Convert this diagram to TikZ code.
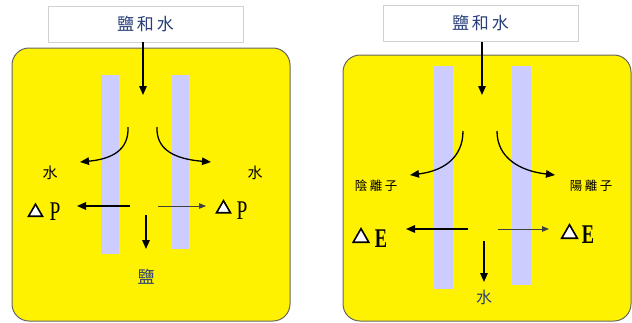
\documentclass[tikz,border=0pt]{standalone}
\usepackage{fontspec}
\newfontfamily\cjk{Noto Sans CJK TC}
\newfontfamily\latser{Liberation Serif}
\usetikzlibrary{arrows.meta,shapes.geometric}
\definecolor{tblue}{RGB}{40,62,122}
\definecolor{lav}{RGB}{204,204,255}
\tikzset{
  panel/.style={fill=yellow, draw=black!60, line width=1pt, rounded corners=17pt},
  membrane/.style={fill=lav, draw=none},
  titlebox/.style={draw=black!18, fill=white, minimum width=195pt, minimum height=36pt,
    inner sep=0pt, font=\cjk\fontsize{17}{17}\selectfont, text=tblue},
  arr/.style={-{Triangle[length=9pt,width=7.5pt]}, line width=1.4pt},
  thinarr/.style={-{Triangle[length=7pt,width=5.5pt]}, line width=0.9pt, draw=black!75, fill=black!75},
  lbl/.style={inner sep=0pt, font=\cjk\fontsize{15}{15}\selectfont},
  smalllbl/.style={inner sep=0pt, font=\cjk\fontsize{12.5}{12.5}\selectfont},
  outlbl/.style={inner sep=0pt, text=tblue, font=\cjk\fontsize{17}{17}\selectfont},
  tri/.style={regular polygon, regular polygon sides=3, draw=black, fill=white,
    line width=1.6pt, inner sep=0pt, minimum size=#1, anchor=south},
  letter/.style={inner sep=0pt, font=\latser\fontsize{27}{27}\selectfont},
}
\begin{document}
\begin{tikzpicture}[x=1pt,y=-1pt]
\useasboundingbox (0,0) rectangle (632,322);
% ---------------- left panel ----------------
\draw[panel] (12,48) rectangle (290,321);
\fill[membrane] (101,75) rectangle (119,254);
\fill[membrane] (172,75) rectangle (189,249);
\node[titlebox] (tl) at (145.5,24) {鹽\hspace{3pt}和\hspace{3pt}水};
\coordinate (tlend) at (143,95);
\draw[arr] (tl.south -| tlend) -- (tlend);
% curved arrows
\coordinate (lc1s) at (128,127);
\coordinate (lc1e) at (80,162);
\coordinate (lc2s) at (157,127);
\coordinate (lc2e) at (211,162);
\draw[arr, line width=1.3pt] (lc1s) .. controls (129,150) and (112,159) .. (lc1e);
\draw[arr, line width=1.3pt] (lc2s) .. controls (156,150) and (175,159) .. (lc2e);
\node[lbl] (lw1) at (50,173) {水};
\node[lbl] (lw2) at (255,173) {水};
% horizontal arrows
\coordinate (lh1s) at (130,206);
\coordinate (lh1e) at (77,206);
\coordinate (lh2s) at (158,206);
\coordinate (lh2e) at (206,206);
\draw[arr] (lh1s) -- (lh1e);
\draw[thinarr] (lh2s) -- (lh2e);
\coordinate (ld1s) at (146,215);
\coordinate (ld1e) at (146,249);
\draw[arr] (ld1s) -- (ld1e);
% delta P
\node[tri=16pt] (ltri1) at (35.5,217) {};
\node[letter] (lp1) at (55,212) {\scalebox{0.72}[1]{P}};
\node[tri=16pt] (ltri2) at (223.5,213.5) {};
\node[letter] (lp2) at (242,211) {\scalebox{0.72}[1]{P}};
\node[outlbl] (lsalt) at (146,277) {鹽};
% ---------------- right panel ----------------
\draw[panel] (343,55) rectangle (631,321);
\fill[membrane] (434,66) rectangle (453,289);
\fill[membrane] (512,66) rectangle (531,285);
\node[titlebox] (tr) at (480.5,23.5) {鹽\hspace{3pt}和\hspace{3pt}水};
\coordinate (trend) at (482,95);
\draw[arr] (tr.south -| trend) -- (trend);
\coordinate (rc1s) at (463,131);
\coordinate (rc1e) at (410,175);
\coordinate (rc2s) at (497,131);
\coordinate (rc2e) at (555,175);
\draw[arr, line width=1.3pt] (rc1s) .. controls (463,158) and (443,171) .. (rc1e);
\draw[arr, line width=1.3pt] (rc2s) .. controls (497,158) and (520,171) .. (rc2e);
\node[smalllbl] (ran) at (376,186) {陰\hspace{2.5pt}離\hspace{2.5pt}子};
\node[smalllbl] (rcat) at (591,186) {陽\hspace{2.5pt}離\hspace{2.5pt}子};
\coordinate (rh1s) at (468,229);
\coordinate (rh1e) at (406,229);
\coordinate (rh2s) at (498,229);
\coordinate (rh2e) at (549,229);
\draw[arr] (rh1s) -- (rh1e);
\draw[thinarr] (rh2s) -- (rh2e);
\coordinate (rd1s) at (484,241);
\coordinate (rd1e) at (484,282);
\draw[arr] (rd1s) -- (rd1e);
\node[tri=18pt] (rtri1) at (361,243) {};
\node[letter] (re1) at (381,238.5) {\bfseries\scalebox{0.68}[1]{E}};
\node[tri=18pt] (rtri2) at (569.5,239) {};
\node[letter] (re2) at (588,234.5) {\bfseries\scalebox{0.68}[1]{E}};
\node[outlbl, font=\cjk\fontsize{16}{16}\selectfont] (rwater) at (484,297) {水};
\end{tikzpicture}
\end{document}
